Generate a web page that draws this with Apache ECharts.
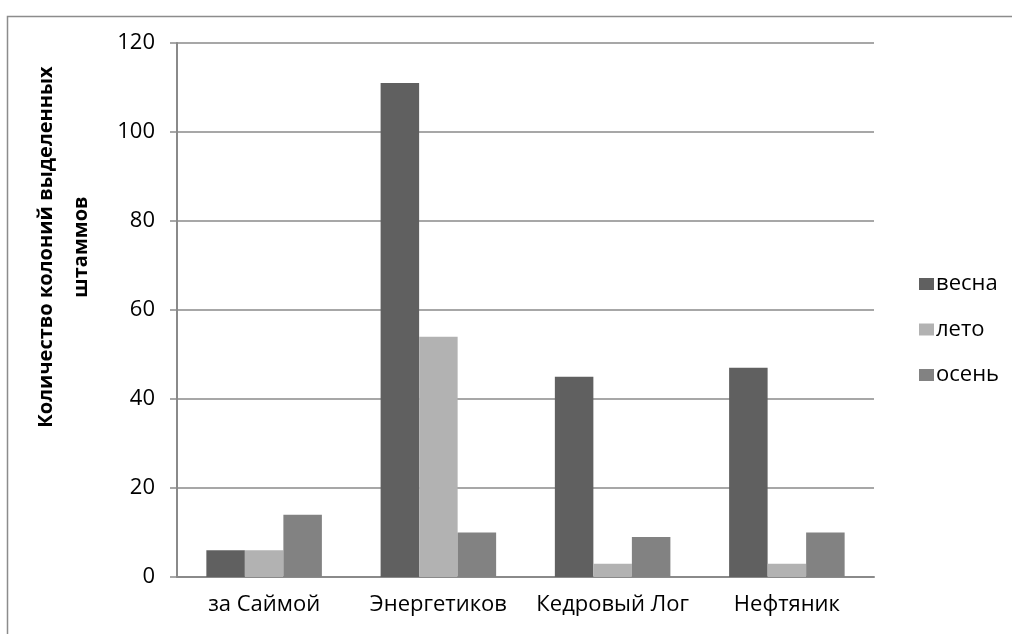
<!DOCTYPE html>
<html>
<head>
<meta charset="utf-8">
<script src="https://cdn.jsdelivr.net/npm/echarts@6/dist/echarts.min.js"></script>
<style>
  html, body { margin: 0; padding: 0; background: #fff; }
  #chart { width: 1012px; height: 634px; }
</style>
</head>
<body>
<div id="chart"></div>
<script>
// Sampling sites and colony counts by season
const categories = ['за Саймой', 'Энергетиков', 'Кедровый Лог', 'Нефтяник'];
const seriesNames = ['весна', 'лето', 'осень'];
const spring = [6, 111, 45, 47];
const summer = [6, 54, 3, 3];
const autumn = [14, 10, 9, 10];
const yTicks = { min: 0, max: 120, interval: 20 };
const yTitleLines = ['Количество колоний выделенных', 'штаммов'];

const colors = ['#606060', '#b2b2b2', '#828282'];
const fontFamily = '"Open Sans", "Noto Sans", sans-serif';
const axisGrey = '#8a8a8a';

const chart = echarts.init(document.getElementById('chart'), null, { renderer: 'canvas' });

const values = [spring, summer, autumn];

chart.setOption({
  animation: false,
  backgroundColor: '#ffffff',
  color: colors,
  grid: { left: 177, right: 138, top: 43, bottom: 57, containLabel: false },
  legend: {
    orient: 'vertical',
    left: 914,
    top: 268,
    itemWidth: 15,
    itemHeight: 12,
    itemGap: 23.5,
    icon: 'rect',
    textStyle: { fontFamily, fontSize: 22, color: '#000', padding: [0, 0, 0, -3] },
    data: seriesNames
  },
  xAxis: {
    type: 'category',
    data: categories,
    axisLine: { show: true, lineStyle: { color: axisGrey, width: 2 } },
    axisTick: { show: false },
    axisLabel: { interval: 0, fontFamily, fontSize: 22, color: '#000', margin: 17 },
    splitLine: { show: false }
  },
  yAxis: {
    type: 'value',
    min: yTicks.min,
    max: yTicks.max,
    interval: yTicks.interval,
    axisLine: { show: true, lineStyle: { color: axisGrey, width: 2 } },
    axisTick: { show: true, inside: false, length: 7, lineStyle: { color: axisGrey, width: 1.5 } },
    axisLabel: { fontFamily, fontSize: 22, color: '#000', margin: 22 },
    splitLine: { show: true, lineStyle: { color: axisGrey, width: 1.5 } }
  },
  series: seriesNames.map((name, i) => ({
    name,
    type: 'bar',
    data: values[i],
    barGap: '0%',
    barCategoryGap: '33.7%',
    itemStyle: { color: colors[i] }
  })),
  graphic: [
    {
      type: 'rect',
      left: 5,
      top: 14,
      shape: { width: 1020, height: 640 },
      style: { fill: 'none', stroke: '#8c8c8c', lineWidth: 1.5 },
      silent: true,
      z: -1
    },
    {
      type: 'text',
      x: 64,
      y: 247,
      rotation: Math.PI / 2,
      style: {
        text: yTitleLines.join('\n'),
        fontFamily,
        fontSize: 20,
        fontWeight: 'bold',
        fill: '#000',
        align: 'center',
        verticalAlign: 'middle',
        lineHeight: 35
      },
      silent: true
    }
  ]
});
</script>
</body>
</html>
